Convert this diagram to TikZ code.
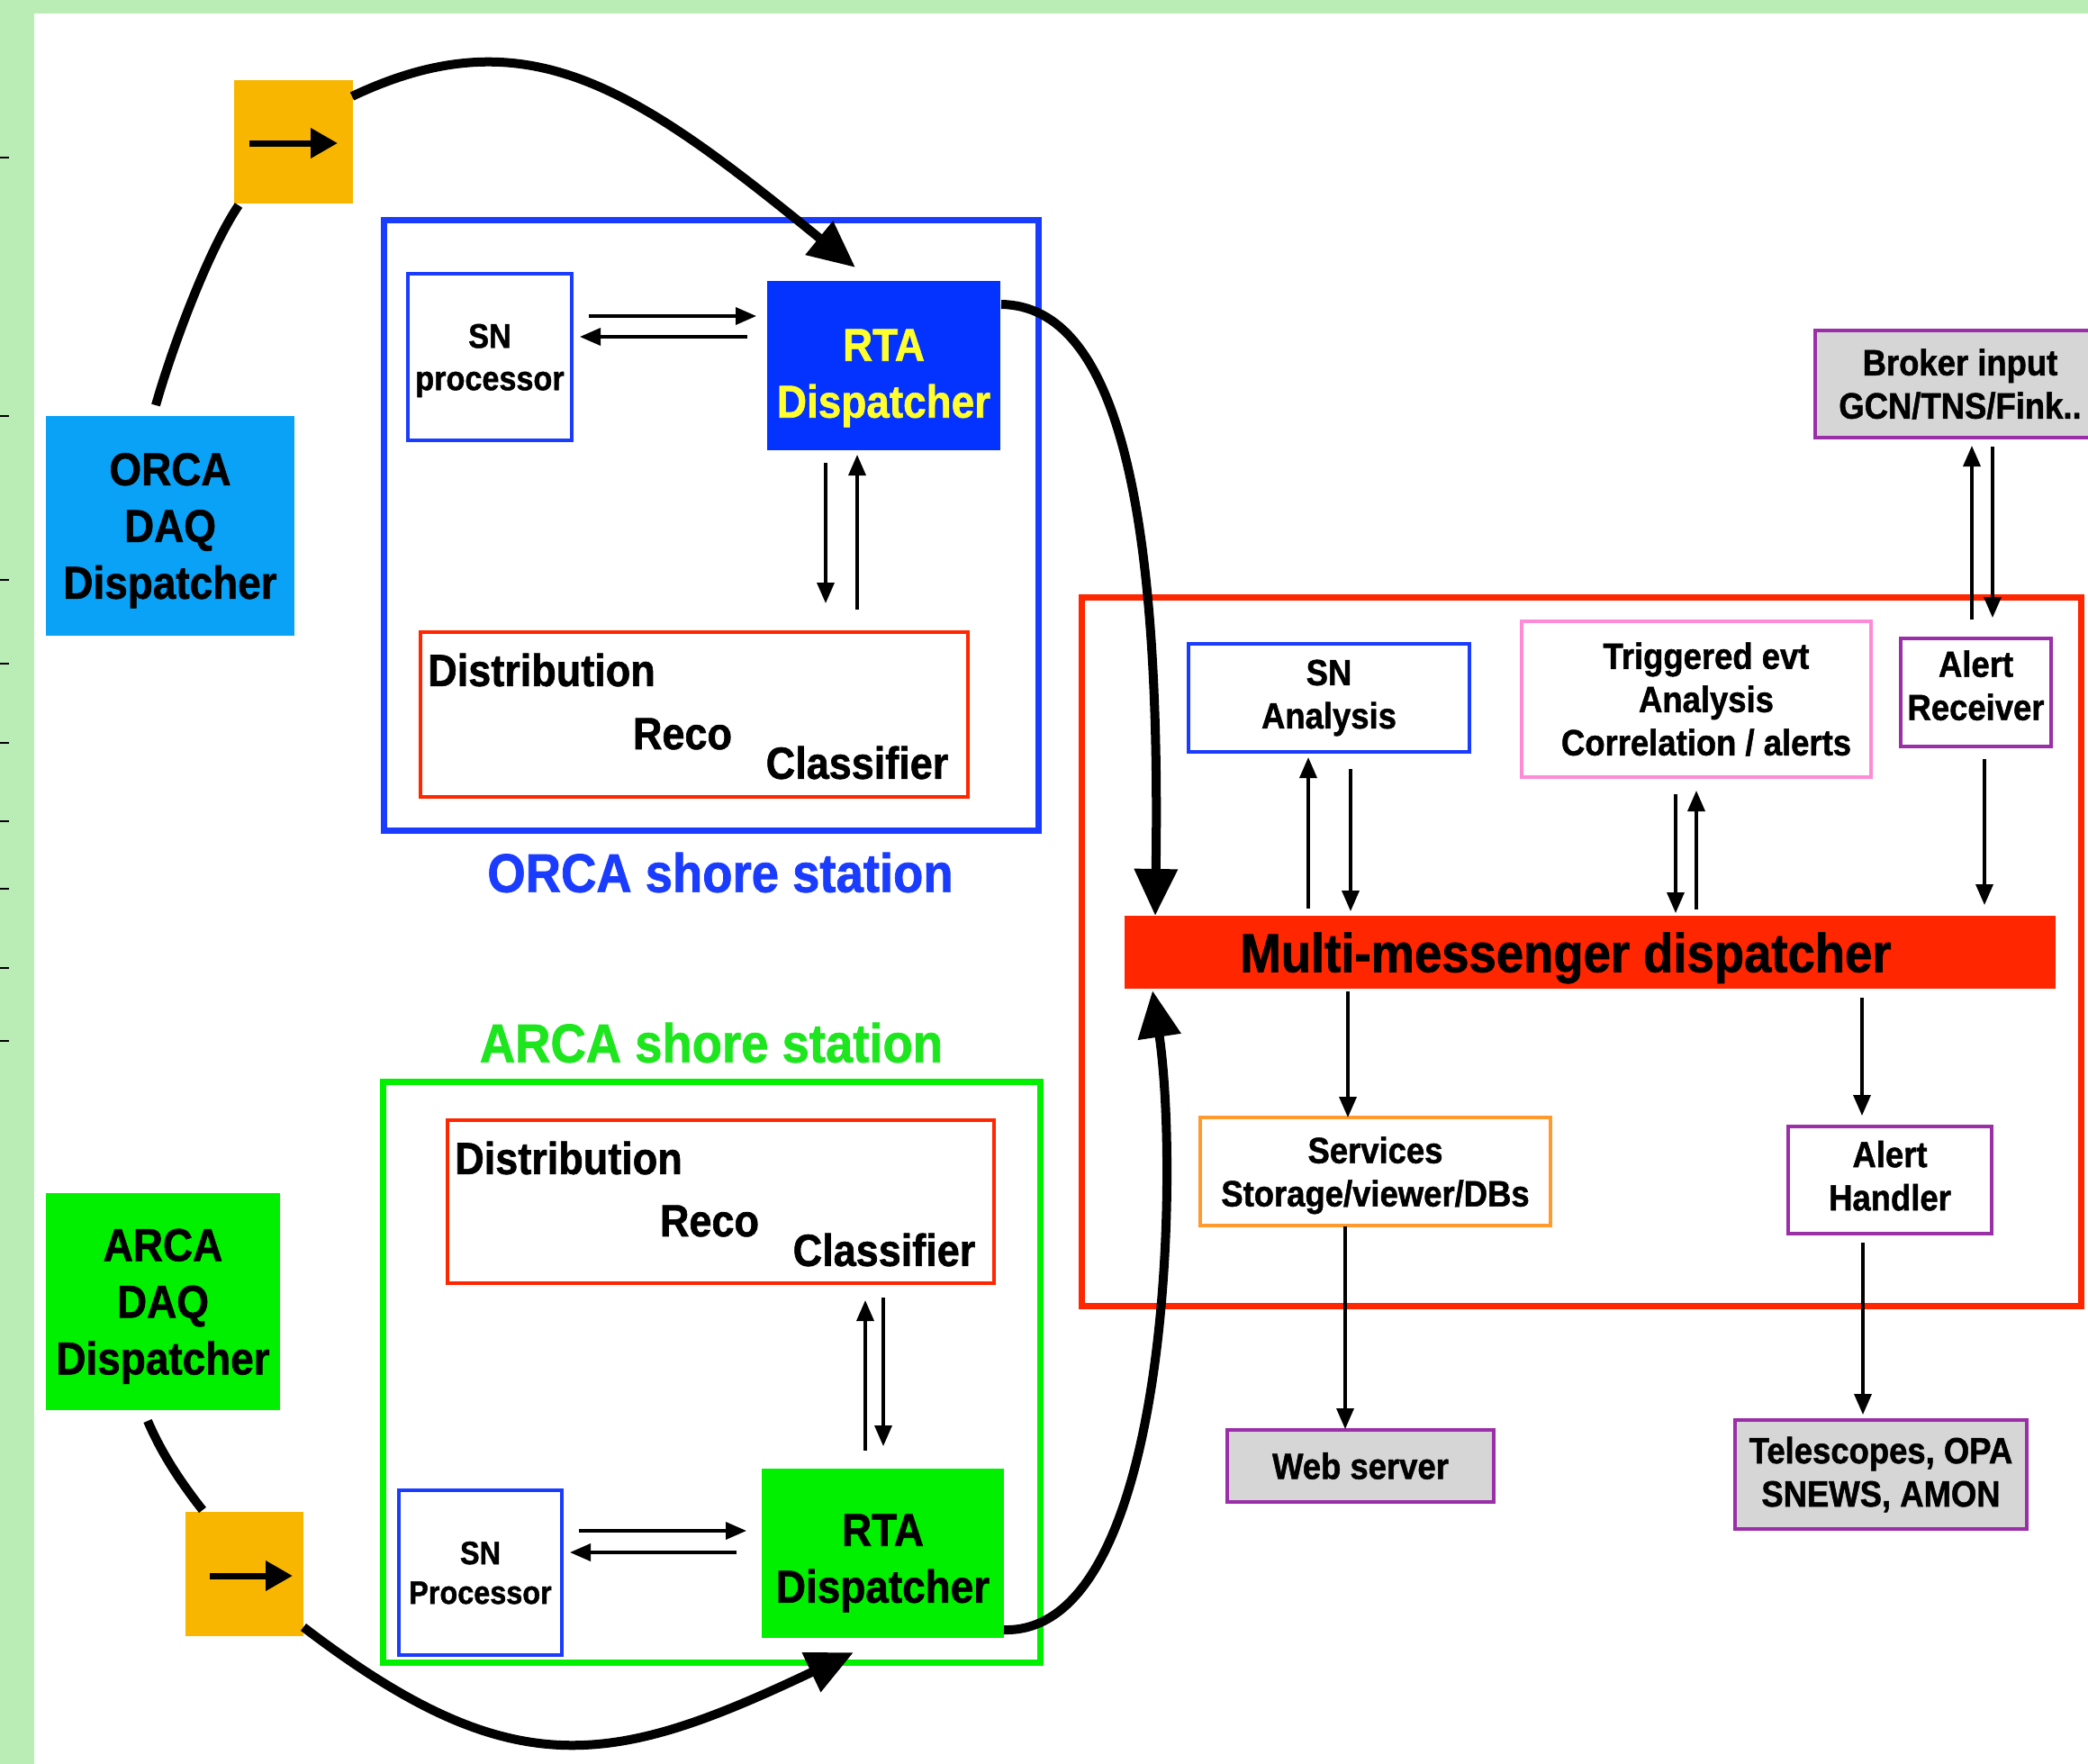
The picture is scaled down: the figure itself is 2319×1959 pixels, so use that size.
\documentclass[tikz,border=0pt]{standalone}
\usepackage{fontspec}
\newfontfamily\diagfont{Liberation Sans}[FakeStretch=0.9,BoldFeatures={FakeBold=1.2}]
\usepackage{tikz}
\usetikzlibrary{arrows.meta,positioning,calc}
\definecolor{cBack}{HTML}{B9EDB5}
\definecolor{cOrcaDaq}{HTML}{0AA2F7}
\definecolor{cArca}{HTML}{00F000}
\definecolor{cArcaTxt}{HTML}{1EE61E}
\definecolor{cConv}{HTML}{F8B600}
\definecolor{cOrca}{HTML}{0433FF}
\definecolor{cOrcaLine}{HTML}{1A3CFF}
\definecolor{cYellow}{HTML}{FFFF2E}
\definecolor{cRed}{HTML}{FF2600}
\definecolor{cPink}{HTML}{FF8AD8}
\definecolor{cPurple}{HTML}{9A2FA8}
\definecolor{cOrange}{HTML}{FF9A2E}
\definecolor{cGray}{HTML}{D6D6D6}
\tikzset{
  nbox/.style    = {rectangle, inner sep=0pt, outer sep=0pt, align=center},
  filled/.style  = {nbox, fill=#1},
  station/.style = {nbox, draw=#1, line width=7pt},
  part/.style    = {nbox, draw=#1, line width=4pt},
  outside/.style = {nbox, draw=cPurple, line width=4.5pt, fill=cGray},
  fS/.style      = {font=\diagfont\bfseries\fontsize{40.5}{48}\selectfont},
  fL/.style      = {font=\diagfont\bfseries\fontsize{51}{63}\selectfont},
  fD/.style      = {font=\diagfont\bfseries\fontsize{50}{60}\selectfont},
  fX/.style      = {font=\diagfont\bfseries\fontsize{60.5}{72}\selectfont},
  fl/.style      = {-{Triangle[length=23pt,width=19pt]}, line width=3.5pt},
  bigflow/.style = {-{Triangle[length=52pt,width=46pt]}, line width=10pt},
  feed/.style    = {line width=10pt},
  conv/.style    = {-{Triangle[length=30pt,width=32pt]}, line width=7pt},
}
\begin{document}
\begin{tikzpicture}[x=1pt,y=-1pt]
  \useasboundingbox (0,0) rectangle (2319,1959);
  \fill[cBack] (0,0) rectangle (2319,1959);
  \fill[white] (38,15) rectangle (2319,1959);
  \foreach \ty in {175,462,644,737,825,912,987,1075,1156}
    \draw[line width=2.5pt] (0,\ty) -- (10,\ty);

  \node[filled=cOrcaDaq, minimum width=276pt, minimum height=244pt, fL, text depth=-2pt] (orcadaq) at (189,584) {ORCA\\DAQ\\Dispatcher};
  \node[filled=cArca, minimum width=260pt, minimum height=241pt, fL, text depth=-7pt] (arcadaq) at (181,1445.5) {ARCA\\DAQ\\Dispatcher};
  \node[filled=cConv, minimum width=132pt, minimum height=137pt] (orcaconv) at (326,157.5) {};
  \node[filled=cConv, minimum width=131pt, minimum height=138pt] (arcaconv) at (271.5,1748) {};

  \node[station=cOrcaLine, minimum width=727pt, minimum height=678pt] (orcastation) at (790,583.5) {};
  \node[part=cOrcaLine, line width=3.5pt, minimum width=182pt, minimum height=185pt, text depth=-10pt,
        font=\diagfont\bfseries\fontsize{38}{47}\selectfont] (orcasn) at (544,396.5) {SN\\processor};
  \node[filled=cOrca, minimum width=259pt, minimum height=188pt, fL, text=cYellow] (orcarta) at (981.5,406) {\rule{0pt}{63pt}RTA\\Dispatcher};
  \node[part=cRed, line width=3.5pt, minimum width=608pt, minimum height=183pt] (orcadist) at (771,793.5) {};
  \node[fD] (orcadistA) at ($(orcadist.center)+(-169.5,-49.5)$) {Distribution};
  \node[fD] (orcadistB) at ($(orcadist.center)+(-13,21.5)$) {Reco};
  \node[fD] (orcadistC) at ($(orcadist.center)+(181,53.5)$) {Classifier};
  \node[fX, text=cOrcaLine] (orcalbl) at ($(orcastation.south)+(10,46.5)$) {ORCA shore station};

  \node[fX, text=cArcaTxt] (arcalbl) at (790,1158) {ARCA shore station};
  \node[station=cArca, minimum width=730pt, minimum height=645pt] (arcastation) at (790.5,1524) {};
  \node[part=cRed, line width=3.5pt, minimum width=607pt, minimum height=181pt] (arcadist) at (800.5,1334.5) {};
  \node[fD] (arcadistA) at ($(arcadist.center)+(-169,-48.5)$) {Distribution};
  \node[fD] (arcadistB) at ($(arcadist.center)+(-12.5,21.5)$) {Reco};
  \node[fD] (arcadistC) at ($(arcadist.center)+(181.5,53.5)$) {Classifier};
  \node[part=cOrcaLine, line width=3.5pt, minimum width=181pt, minimum height=183pt, text depth=-3pt,
        font=\diagfont\bfseries\fontsize{36}{44}\selectfont] (arcasn) at (533.5,1746.5) {SN\\Processor};
  \node[filled=cArca, minimum width=269pt, minimum height=188pt, fL] (arcarta) at (980.5,1725) {\rule{0pt}{57pt}RTA\\Dispatcher};

  \node[station=cRed, minimum width=1110pt, minimum height=787pt] (mmframe) at (1756.5,1057) {};
  \node[filled=cRed, minimum width=1034pt, minimum height=81pt, fX, text depth=0pt] (mmbar) at (1766,1057.5) {Multi-messenger dispatcher\hspace*{54pt}};
  \node[part=cOrcaLine, minimum width=312pt, minimum height=120pt, fS] (snana) at (1476,775) {SN\\Analysis};
  \node[part=cPink, minimum width=388pt, minimum height=173pt, fS] (trig) at (1884,776.5) {\hspace*{22pt}Triggered evt\\\hspace*{22pt}Analysis\\\hspace*{22pt}Correlation / alerts};
  \node[part=cPurple, line width=4.5pt, minimum width=167pt, minimum height=120pt, fS, text depth=16pt] (alrec) at (2194.5,769) {Alert\\Receiver};
  \node[outside, minimum width=322pt, minimum height=119pt, fS] (broker) at (2177,426.5) {Broker input\\GCN/TNS/Fink..};
  \node[part=cOrange, minimum width=389pt, minimum height=120pt, fS, text depth=0pt] (services) at (1527.5,1301) {Services\\Storage/viewer/DBs};
  \node[part=cPurple, line width=4.5pt, minimum width=226pt, minimum height=119pt, fS, text depth=10pt] (alhand) at (2099,1310.5) {Alert\\Handler};
  \node[outside, minimum width=296pt, minimum height=80pt, fS] (web) at (1511,1628) {Web server};
  \node[outside, minimum width=324pt, minimum height=121pt, fS] (tele) at (2089,1637.5) {Telescopes, OPA\\SNEWS, AMON};

  \draw[fl] ($(orcasn.east)+(19,-45.5)$) -- ($(orcarta.west)+(-12,-55)$);
  \draw[fl] ($(orcarta.west)+(-22,-32)$) -- ($(orcasn.east)+(9,-22.5)$);
  \draw[fl] ($(orcarta.south)+(-64.5,14)$) -- ($(orcadist.north)+(146,-32)$);
  \draw[fl] ($(orcadist.north)+(181,-25)$) -- ($(orcarta.south)+(-29.5,5)$);

  \draw[fl] ($(arcasn.east)+(19,-46.5)$) -- ($(arcarta.west)+(-17,-25)$);
  \draw[fl] ($(arcarta.west)+(-28,-1)$) -- ($(arcasn.east)+(9,-22.5)$);
  \draw[fl] ($(arcarta.north)+(-19.5,-20)$) -- ($(arcadist.south)+(160.5,19)$);
  \draw[fl] ($(arcadist.south)+(180.5,16)$) -- ($(arcarta.north)+(0.5,-25)$);

  \draw[fl] ($(mmbar.north)+(-313,-8)$) -- ($(snana.south)+(-23,6)$);
  \draw[fl] ($(snana.south)+(24,19)$) -- ($(mmbar.north)+(-266,-5)$);
  \draw[fl] ($(trig.south)+(-23,19)$) -- ($(mmbar.north)+(95,-3)$);
  \draw[fl] ($(mmbar.north)+(118,-7)$) -- ($(trig.south)+(0,15)$);
  \draw[fl] ($(alrec.south)+(9.5,14)$) -- ($(mmbar.north)+(438,-12)$);
  \draw[fl] ($(alrec.north)+(-4.5,-21)$) -- ($(broker.south)+(13,9)$);
  \draw[fl] ($(broker.south)+(36,10)$) -- ($(alrec.north)+(18.5,-23)$);
  \draw[fl] ($(mmbar.south)+(-269,3)$) -- ($(services.north)+(-30.5,0)$);
  \draw[fl] ($(mmbar.south)+(302,10)$) -- ($(alhand.north)+(-31,-12)$);
  \draw[fl] ($(services.south)+(-33.5,1)$) -- ($(web.north)+(-17,-1)$);
  \draw[fl] ($(alhand.south)+(-30,10)$) -- ($(tele.north)+(-20,-6)$);

  \draw[conv] ($(orcaconv.center)+(-49,1.5)$) -- ($(orcaconv.center)+(49,1.5)$);
  \draw[conv] ($(arcaconv.center)+(-38.5,2)$) -- ($(arcaconv.center)+(53.5,2)$);

  \draw[feed] ($(orcadaq.north)+(-16,-12)$) .. controls (190,390) and (230,280) .. ($(orcaconv.south west)+(5,2)$);
  \draw[bigflow] ($(orcaconv.north east)+(-1,18)$) .. controls (585,15) and (705,97) .. ($(orcarta.north)+(-31.5,-15)$);
  \draw[bigflow] ($(orcarta.north east)+(1,26)$) .. controls (1240,340) and (1290,560) .. ($(mmbar.north west)+(34,0)$);
  \draw[feed] ($(arcadaq.south)+(-17,12)$) .. controls (180,1615) and (200,1645) .. ($(arcaconv.north west)+(19,-2)$);
  \draw[bigflow] ($(arcaconv.south east)+(0,-10)$) .. controls (570,1985) and (680,1962) .. ($(arcarta.south)+(-32.5,16)$);
  \draw[bigflow] ($(arcarta.south east)+(0,-9)$) .. controls (1300,1815) and (1310,1300) .. ($(mmbar.south west)+(31,2)$);
\end{tikzpicture}
\end{document}
